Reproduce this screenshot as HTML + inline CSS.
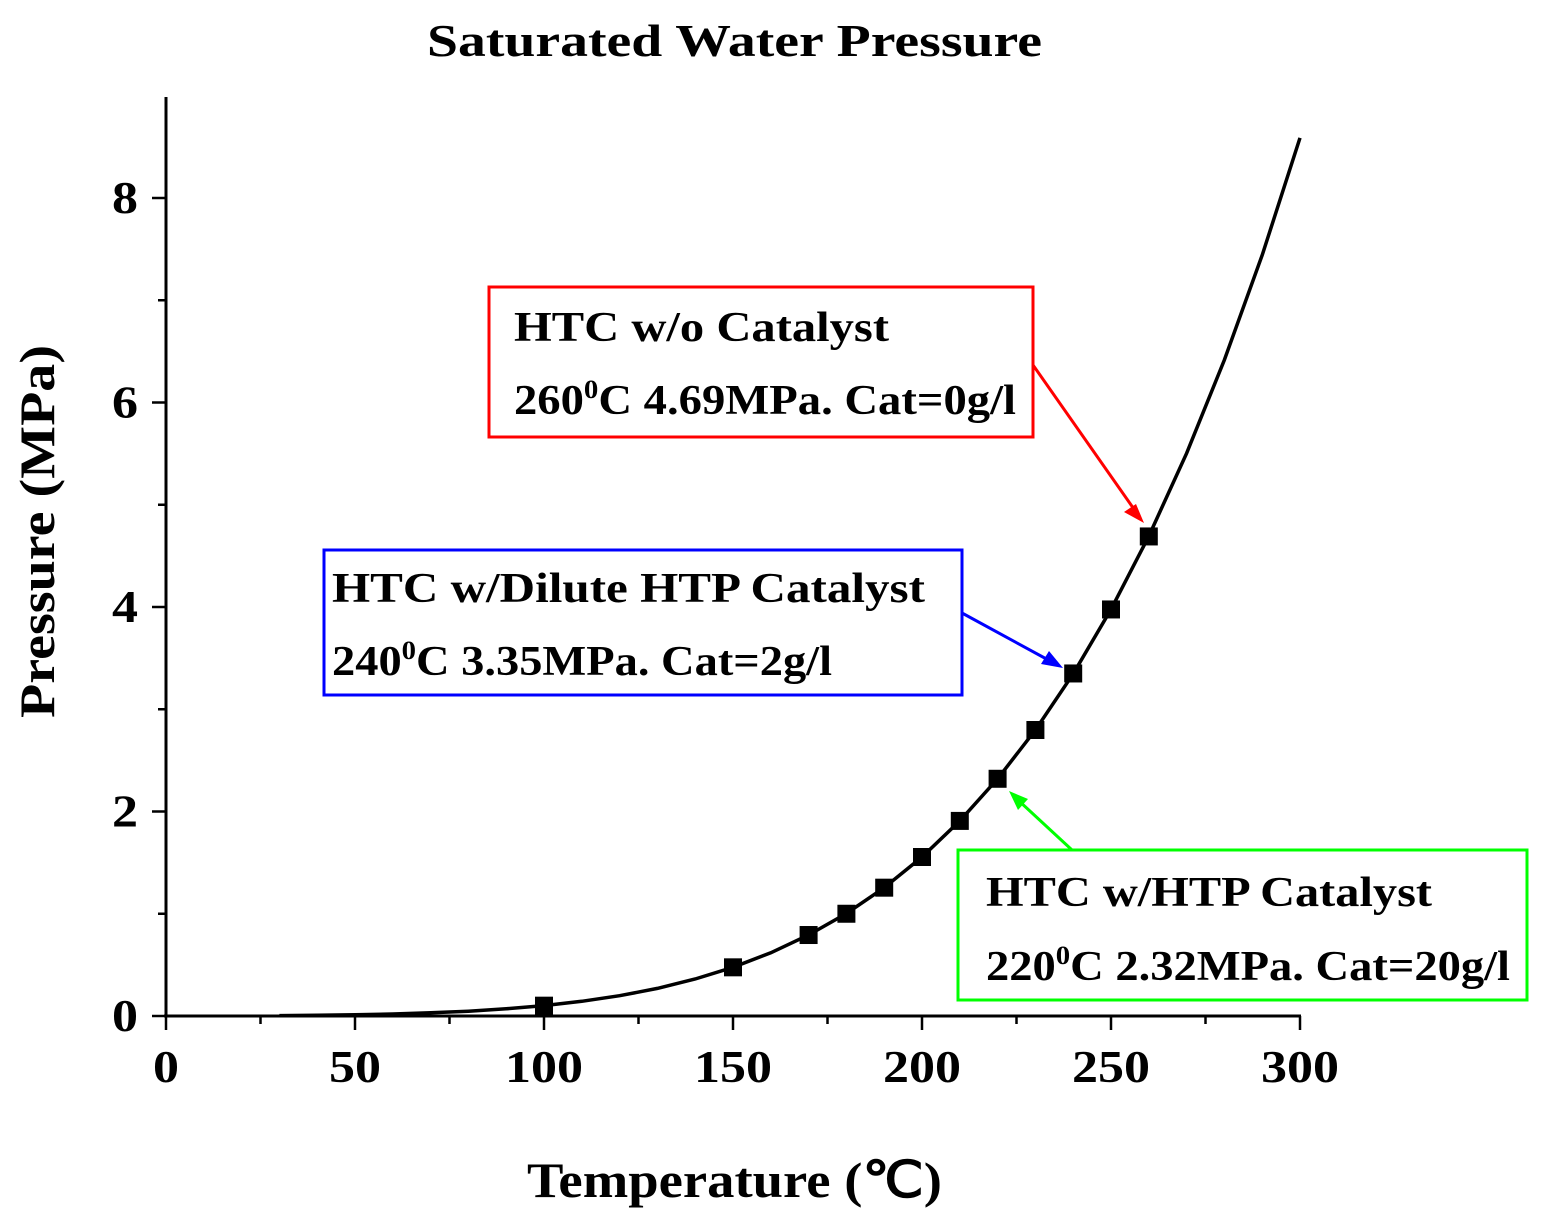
<!DOCTYPE html>
<html><head><meta charset="utf-8"><style>
html,body{margin:0;padding:0;background:#fff;}
svg{display:block;font-family:"Liberation Serif",serif;font-weight:bold;}
</style></head><body>
<svg id="chart" width="1544" height="1224" viewBox="0 0 1544 1224">
<text x="427" y="56" font-size="46" textLength="615" lengthAdjust="spacingAndGlyphs">Saturated Water Pressure</text>
<g id="axes"></g>
<path id="curve" fill="none" stroke="#000" stroke-width="3.5"/>
<g id="points"></g>
<text x="527" y="1197" font-size="50" textLength="415" lengthAdjust="spacingAndGlyphs">Temperature (℃)</text>
<text transform="translate(54,718) rotate(-90)" font-size="50" textLength="373" lengthAdjust="spacingAndGlyphs">Pressure (MPa)</text>

<g>
<rect x="489" y="287" width="544" height="150" fill="none" stroke="#f00" stroke-width="3"/>
<text x="514" y="341" font-size="42" textLength="375" lengthAdjust="spacingAndGlyphs">HTC w/o Catalyst</text>
<text x="514" y="414" font-size="42" textLength="502" lengthAdjust="spacingAndGlyphs">260<tspan font-size="26" dy="-16">0</tspan><tspan dy="16">C 4.69MPa. Cat=0g/l</tspan></text>
<line x1="1033" y1="365" x2="1136" y2="512" stroke="#f00" stroke-width="3"/>
<polygon points="1144,523 1124,512 1136,504" fill="#f00"/>
</g>
<g>
<rect x="324" y="550" width="638" height="145" fill="none" stroke="#00f" stroke-width="3"/>
<text x="332" y="602" font-size="42" textLength="593" lengthAdjust="spacingAndGlyphs">HTC w/Dilute HTP Catalyst</text>
<text x="332" y="675" font-size="42" textLength="500" lengthAdjust="spacingAndGlyphs">240<tspan font-size="26" dy="-16">0</tspan><tspan dy="16">C 3.35MPa. Cat=2g/l</tspan></text>
<line x1="962" y1="613" x2="1052" y2="662" stroke="#00f" stroke-width="3"/>
<polygon points="1063,668 1041,664 1049,651" fill="#00f"/>
</g>
<g>
<rect x="958" y="850" width="569" height="150" fill="none" stroke="#0f0" stroke-width="3"/>
<text x="986" y="906" font-size="42" textLength="446" lengthAdjust="spacingAndGlyphs">HTC w/HTP Catalyst</text>
<text x="986" y="980" font-size="42" textLength="524" lengthAdjust="spacingAndGlyphs">220<tspan font-size="26" dy="-16">0</tspan><tspan dy="16">C 2.32MPa. Cat=20g/l</tspan></text>
<line x1="1072" y1="850" x2="1018" y2="800" stroke="#0f0" stroke-width="3"/>
<polygon points="1009,791 1028,799 1018,810" fill="#0f0"/>
</g>
</svg>
<script>
const curveT=[30,40,50,60,70,80,90,100,110,120,130,140,150,160,170,180,190,200,210,220,230,240,250,260,270,280,290,300];
const curveP=[0.0042,0.0074,0.0123,0.0199,0.0312,0.0474,0.0701,0.1014,0.1434,0.1987,0.2703,0.3615,0.4762,0.6182,0.7922,1.0028,1.2552,1.5549,1.9077,2.3196,2.7971,3.3469,3.9762,4.6923,5.5030,6.4166,7.4418,8.5879];
const pointT=[100,150,170,180,190,200,210,220,230,240,250,260];
const pointP=[0.101,0.476,0.792,1.0,1.255,1.555,1.908,2.32,2.797,3.35,3.976,4.69];
const xTicks=[0,50,100,150,200,250,300];
const yTicks=[0,2,4,6,8];
const NS="http://www.w3.org/2000/svg";
const X=t=>166+t*(1300-166)/300;
const Y=p=>1016-p*(1016-198)/8;
function mk(tag,attrs,parent){const e=document.createElementNS(NS,tag);for(const k in attrs)e.setAttribute(k,attrs[k]);parent.appendChild(e);return e;}
const axes=document.getElementById('axes');
let l=mk('line',{x1:166,y1:97,x2:166,y2:1016,stroke:'#000','stroke-width':3},axes);


l=mk('line',{x1:164,y1:1016,x2:1301,y2:1016,stroke:'#000','stroke-width':3},axes);


for(let t=0;t<=300;t+=25){const major=t%50===0;
 const tk=mk('line',{x1:X(t),y1:1016,x2:X(t),y2:1016+(major?14:8),stroke:'#000','stroke-width':2.5},axes);
 
 }
xTicks.forEach(t=>{const s=String(t);const w=26*s.length;
 const tx=mk('text',{x:X(t)-w/2,y:1082,'font-size':46,textLength:w,lengthAdjust:'spacingAndGlyphs'},axes);tx.textContent=s;
 
 });
for(let p=0;p<=8;p++){const major=p%2===0;
 const tk=mk('line',{x1:166-(major?14:8),y1:Y(p),x2:166,y2:Y(p),stroke:'#000','stroke-width':2.5},axes);
 
 }
yTicks.forEach(p=>{const tx=mk('text',{x:112,y:Y(p)+15,'font-size':46,textLength:26,lengthAdjust:'spacingAndGlyphs'},axes);tx.textContent=p;
 
 });
document.getElementById('curve').setAttribute('d',curveT.map((t,i)=>(i?'L':'M')+X(t).toFixed(1)+','+Y(curveP[i]).toFixed(1)).join(''));
const pts=document.getElementById('points');
pointT.forEach((t,i)=>{const r=mk('rect',{x:X(t)-9,y:Y(pointP[i])-9,width:18,height:18,fill:'#000'},pts);
 
 });
</script>
</body></html>
